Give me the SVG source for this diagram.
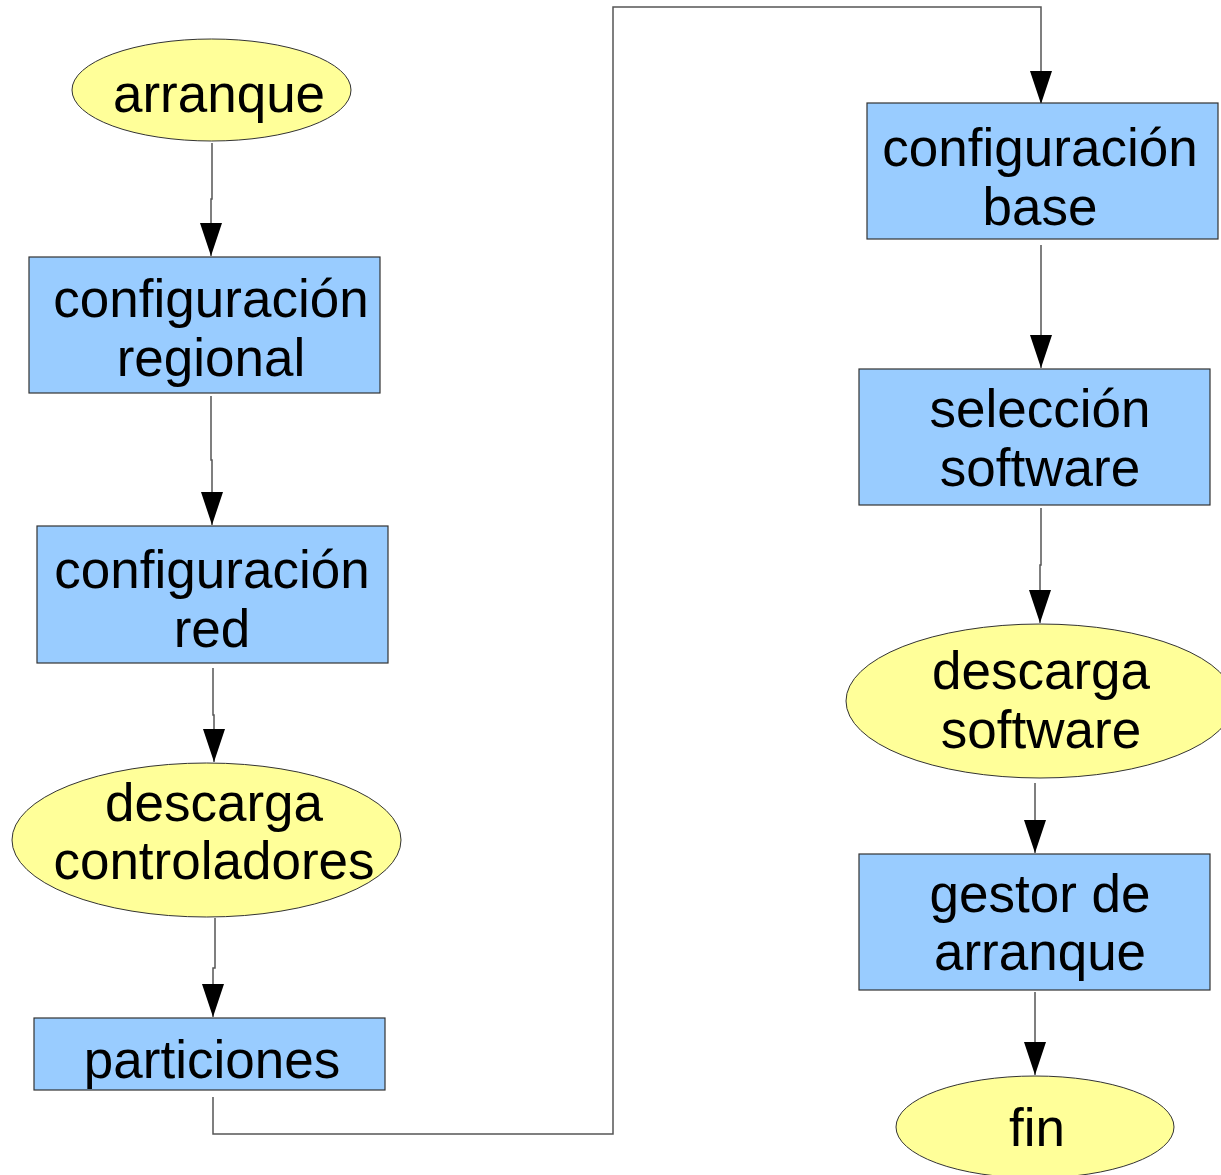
<svg xmlns="http://www.w3.org/2000/svg" width="1221" height="1175" viewBox="0 0 1221 1175">
<style>
.box{fill:#99ccff;stroke:#333;stroke-width:1.2}
.ell{fill:#ffff99;stroke:#333;stroke-width:1}
.t{font-family:"Liberation Sans",Arial,sans-serif;font-size:53px;fill:#000;text-anchor:middle}
.c{fill:none;stroke:#555;stroke-width:1.5}
</style>
<defs>
<marker id="ah" markerUnits="userSpaceOnUse" markerWidth="34" markerHeight="24" refX="33" refY="11" orient="auto">
<path d="M0,0 L33,11 L0,22 z" fill="#000"/>
</marker>
</defs>
<rect width="1221" height="1175" fill="#fff"/>
<g id="connectors">
<path class="c" d="M212,143 V199 H211 V256" marker-end="url(#ah)"/>
<path class="c" d="M211,396 V460 H212 V525" marker-end="url(#ah)"/>
<path class="c" d="M213,668 V715 H214 V762" marker-end="url(#ah)"/>
<path class="c" d="M215,918 V968 H213 V1017" marker-end="url(#ah)"/>
<path class="c" d="M213,1097 V1134 H613 V7 H1041 V104" marker-end="url(#ah)"/>
<path class="c" d="M1041,245 V368" marker-end="url(#ah)"/>
<path class="c" d="M1041,508 V565 H1040 V623" marker-end="url(#ah)"/>
<path class="c" d="M1035,783 V853" marker-end="url(#ah)"/>
<path class="c" d="M1035,992 V1075" marker-end="url(#ah)"/>
</g>
<g id="arranque">
<ellipse class="ell" cx="211.5" cy="90" rx="139.5" ry="51"/>
<text class="t" x="219" y="112">arranque</text>
</g>
<g id="config-regional">
<rect class="box" x="29" y="257" width="351" height="136"/>
<text class="t" x="211" y="317">configuración</text>
<text class="t" x="211" y="376">regional</text>
</g>
<g id="config-red">
<rect class="box" x="37" y="526" width="351" height="137"/>
<text class="t" x="212" y="588">configuración</text>
<text class="t" x="212" y="647">red</text>
</g>
<g id="descarga-controladores">
<ellipse class="ell" cx="206.5" cy="840" rx="194.5" ry="77"/>
<text class="t" x="214" y="821">descarga</text>
<text class="t" x="214" y="879">controladores</text>
</g>
<g id="particiones">
<rect class="box" x="34" y="1018" width="351" height="72"/>
<text class="t" x="212" y="1078">particiones</text>
</g>
<g id="config-base">
<rect class="box" x="867" y="103" width="351" height="136"/>
<text class="t" x="1040" y="166">configuración</text>
<text class="t" x="1040" y="225">base</text>
</g>
<g id="seleccion-software">
<rect class="box" x="859" y="369" width="351" height="136"/>
<text class="t" x="1040" y="427">selección</text>
<text class="t" x="1040" y="486">software</text>
</g>
<g id="descarga-software">
<ellipse class="ell" cx="1040" cy="701" rx="194" ry="77"/>
<text class="t" x="1041" y="689">descarga</text>
<text class="t" x="1041" y="748">software</text>
</g>
<g id="gestor-arranque">
<rect class="box" x="859" y="854" width="351" height="136"/>
<text class="t" x="1040" y="912">gestor de</text>
<text class="t" x="1040" y="970">arranque</text>
</g>
<g id="fin">
<ellipse class="ell" cx="1035" cy="1127" rx="139" ry="51"/>
<text class="t" x="1037" y="1146">fin</text>
</g>
</svg>
